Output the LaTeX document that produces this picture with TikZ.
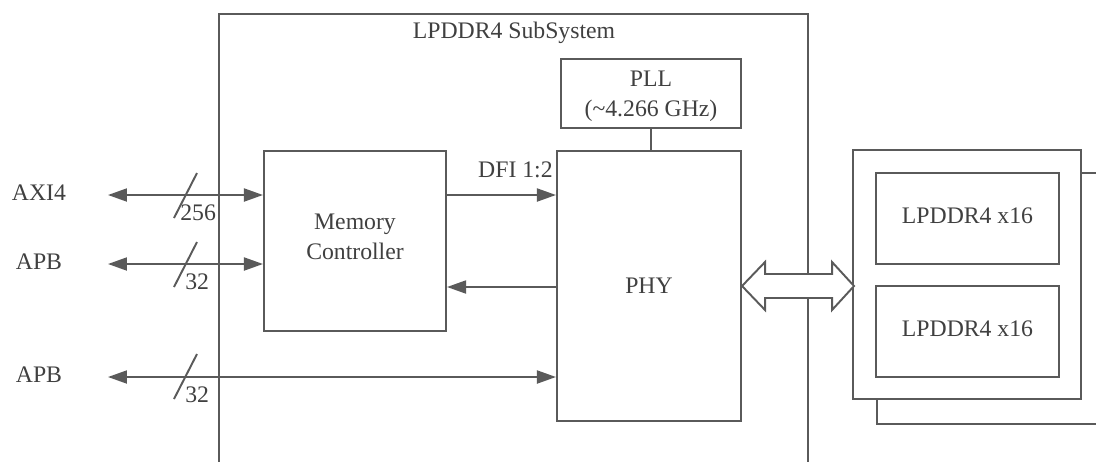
\documentclass[tikz,border=0pt]{standalone}
\usepackage{fontspec}
\setmainfont{Liberation Serif}
\usetikzlibrary{arrows.meta,calc}
\definecolor{ln}{HTML}{5A5A5A}
\definecolor{tx}{HTML}{404040}
\begin{document}
\begin{tikzpicture}[x=0.02cm,y=-0.02cm,
  font=\fontsize{13.5}{17}\selectfont,
  every node/.style={text=tx},
  box/.style={draw=ln,line width=1.2pt,fill=white,inner sep=0pt,align=center},
  wire/.style={draw=ln,line width=1.1pt},
  tip/.style={-{Triangle[length=0.38cm,width=0.26cm]}},
  dtip/.style={{Triangle[length=0.38cm,width=0.26cm]}-{Triangle[length=0.38cm,width=0.26cm]}},
  lbl/.style={inner sep=0pt,anchor=base west}]
\useasboundingbox (0,0) rectangle (1096,461);
\clip (0,0) rectangle (1096,461);
\fill[white] (0,0) rectangle (1096,461);
% subsystem
\draw[wire,line width=1.2pt] (219,470) -- (219,14) -- (808,14) -- (808,470);
\node (title) at (514,33) {LPDDR4 SubSystem};
% blocks
\node[box,minimum width=3.6cm,minimum height=1.38cm] (pll) at (651,93.5) {};
\node[align=center,inner sep=0pt] (plltxt) at (651,96)
  {\fontsize{13.5}{16.5}\selectfont PLL\\(\char`~4.266 GHz)};
\node[box,minimum width=3.68cm,minimum height=5.4cm] (phy) at (649,286) {PHY};
\node[box,minimum width=3.64cm,minimum height=3.6cm] (mc) at (355,241) {};
\node[align=center,inner sep=0pt] (mctxt) at (355,237)
  {\fontsize{13.5}{18}\selectfont Memory\\Controller};
\draw[wire] (pll.south) -- (pll.south |- phy.north);
% memory stack
\node[box,minimum width=4.7cm,minimum height=5.02cm,anchor=north west] (back) at (876,172) {};
\node[box,minimum width=4.56cm,minimum height=4.98cm] (front) at (967,274.5) {};
\node[box,minimum width=3.66cm,minimum height=1.82cm] (d1) at (967.5,218.5) {};
\node[box,minimum width=3.66cm,minimum height=1.82cm] (d2) at (967.5,331.5) {};
\node (d1t) at (967.5,216) {LPDDR4 x16};
\node (d2t) at (967.5,329) {LPDDR4 x16};
% DFI
\draw[wire,tip] (mc.east |- 0,195) -- (phy.west |- 0,195);
\node[inner sep=0pt,anchor=base east] (dfi) at (553,177) {DFI 1:2};
\draw[wire,tip] (phy.west |- 0,287) -- (mc.east |- 0,287);
% left buses
\node (axi) at (39,193) {AXI4};
\node (apb1) at (39,262) {APB};
\node (apb2) at (39,375) {APB};
\coordinate (e1) at (108,195);
\coordinate (e2) at (108,264);
\coordinate (e3) at (108,377);
\draw[wire,dtip] (e1) -- (e1 -| mc.west);
\draw[wire,dtip] (e2) -- (e2 -| mc.west);
\draw[wire,dtip] (e3) -- (e3 -| phy.west);
\draw[wire] (174,218) -- (197,173);
\draw[wire] (174,287) -- (197,242);
\draw[wire] (174,399) -- (197,354);
\node[lbl] (w1) at (180,220) {256};
\node[lbl] (w2) at (185,289) {32};
\node[lbl] (w3) at (185,402) {32};
% wide bidirectional arrow
\draw[draw=ln,line width=1.1pt,fill=white,line join=miter]
  (phy.east) -- ++(23,-24) -- ++(0,12) -- ++(67,0) -- ++(0,-12) -- ++(22,24)
  -- ++(-22,24) -- ++(0,-12) -- ++(-67,0) -- ++(0,12) -- cycle;
\end{tikzpicture}
\end{document}
